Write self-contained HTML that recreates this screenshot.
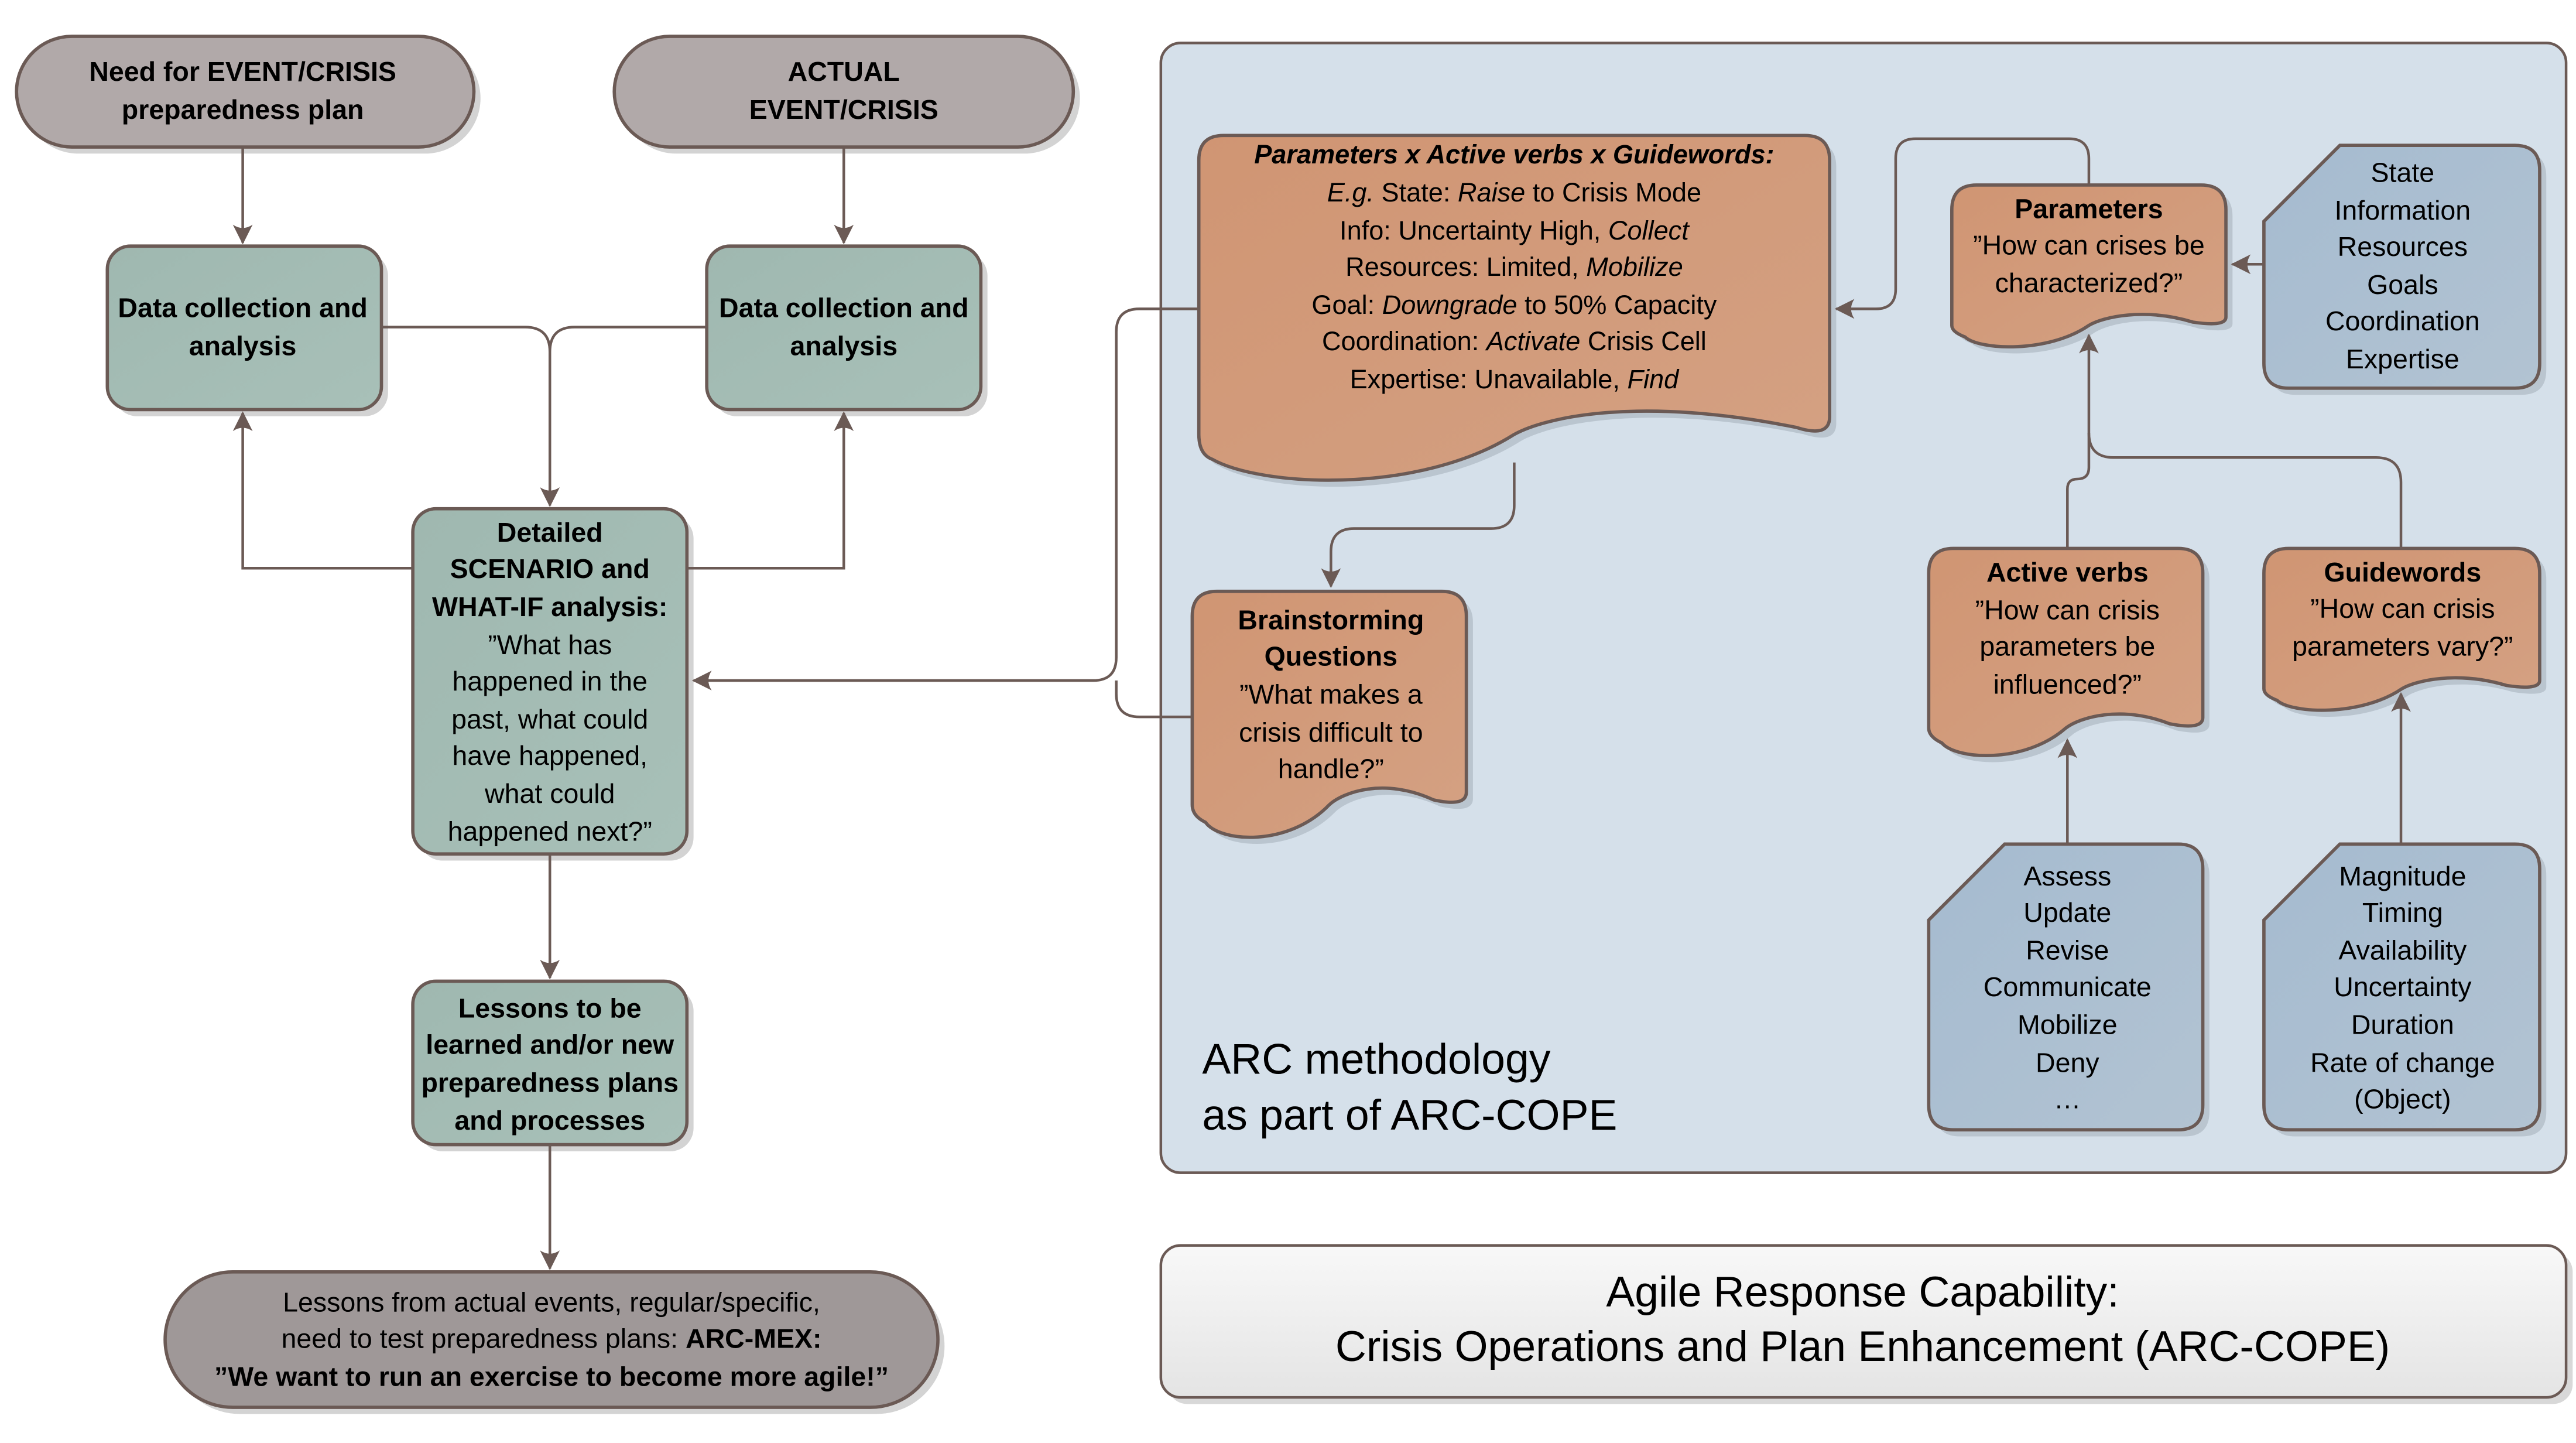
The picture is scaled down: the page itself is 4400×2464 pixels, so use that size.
<!DOCTYPE html>
<html><head><meta charset="utf-8"><style>
html,body{margin:0;padding:0;background:#fff;}
svg{display:block;}
text{font-family:"Liberation Sans",sans-serif;fill:#000;}
</style></head><body>
<svg width="4400" height="2464" viewBox="0 0 1560 873.6" preserveAspectRatio="none" xmlns="http://www.w3.org/2000/svg">
<defs>
<marker id="ar" viewBox="0 0 12 12" refX="11" refY="6" markerWidth="12" markerHeight="12" markerUnits="userSpaceOnUse" orient="auto">
<path d="M0,0 Q4,6 0,12 L12,6 Z" fill="#6b5a55"/>
</marker>
<linearGradient id="gT" x1="0" y1="0" x2="1" y2="1"><stop offset="0" stop-color="#9fb8b0"/><stop offset="1" stop-color="#a8c0b8"/></linearGradient>
<linearGradient id="gO" x1="0" y1="0" x2="1" y2="1"><stop offset="0" stop-color="#d09573"/><stop offset="1" stop-color="#d4a183"/></linearGradient>
<linearGradient id="gB" x1="0" y1="0" x2="1" y2="1"><stop offset="0" stop-color="#a5bbd0"/><stop offset="1" stop-color="#b2c3d2"/></linearGradient>
<linearGradient id="gW" x1="0" y1="0" x2="0" y2="1"><stop offset="0" stop-color="#f8f8f8"/><stop offset="1" stop-color="#e4e4e4"/></linearGradient>
<path id="d1" d="M741,82 H1093 Q1108,82 1108,97 V252.4 Q1108,265.2 1088,258.8 C993.4,239.6 936.1,252.4 917,263 C859.7,299.3 764.2,295 734,278 Q726,275 726,263 V97 Q726,82 741,82 Z"/>
<path id="d2" d="M737,358 H873 Q888,358 888,373 V479.6 Q888,488.7 868,484.2 C838.2,470.5 813.3,479.6 805,487.2 C780.1,513 738.6,510 730,497.8 Q722,494 722,487.2 V373 Q722,358 737,358 Z"/>
<path id="d3" d="M1197,112 H1333 Q1348,112 1348,127 V192 Q1348,198 1328,195 C1298.2,186 1273.3,192 1265,197 C1240.1,214 1198.6,212 1190,204 Q1182,201 1182,197 V127 Q1182,112 1197,112 Z"/>
<path id="d4" d="M1183,332 H1319 Q1334,332 1334,347 V434.4 Q1334,442.1 1314,438.2 C1284.2,426.7 1259.3,434.4 1251,440.8 C1226.1,462.6 1184.6,460 1176,449.8 Q1168,446 1168,440.8 V347 Q1168,332 1183,332 Z"/>
<path id="d5" d="M1386,332 H1523 Q1538,332 1538,347 V412 Q1538,418 1518,415 C1487.9,406 1462.9,412 1454.5,417 C1429.5,434 1387.7,432 1379,424 Q1371,421 1371,417 V347 Q1371,332 1386,332 Z"/>
<path id="b1" d="M1417,88 H1523 Q1538,88 1538,103 V220 Q1538,235 1523,235 H1386 Q1371,235 1371,220 V134 Z"/>
<path id="b2" d="M1214,511 H1319 Q1334,511 1334,526 V669 Q1334,684 1319,684 H1183 Q1168,684 1168,669 V557 Z"/>
<path id="b3" d="M1417,511 H1523 Q1538,511 1538,526 V669 Q1538,684 1523,684 H1386 Q1371,684 1371,669 V557 Z"/>
</defs>

<g fill="#c8c8c8" opacity="0.8">
<rect x="14" y="26" width="277" height="67" rx="33.5"/>
<rect x="376" y="26" width="278" height="67" rx="33.5"/>
<rect x="69" y="153" width="166" height="99" rx="14"/>
<rect x="432" y="153" width="166" height="99" rx="14"/>
<rect x="254" y="312" width="166" height="209" rx="14"/>
<rect x="254" y="598" width="166" height="99" rx="14"/>
<rect x="104" y="774" width="468" height="82" rx="41"/>
</g>

<g stroke="#6b5a55" stroke-width="1.6" fill="none">
<path d="M147,89 V147" marker-end="url(#ar)"/>
<path d="M511,89 V147" marker-end="url(#ar)"/>
<path d="M231,198 H318 Q333,198 333,213 V306" marker-end="url(#ar)"/>
<path d="M428,198 H348 Q333,198 333,213"/>
<path d="M250,344 H147 V250" marker-end="url(#ar)"/>
<path d="M416,344 H511 V250" marker-end="url(#ar)"/>
<path d="M333,517 V592" marker-end="url(#ar)"/>
<path d="M333,693 V768" marker-end="url(#ar)"/>
</g>

<g stroke="#6b5a55" stroke-width="2">
<rect x="10" y="22" width="277" height="67" rx="33.5" fill="#b1a9a9"/>
<rect x="372" y="22" width="278" height="67" rx="33.5" fill="#b1a9a9"/>
<rect x="65" y="149" width="166" height="99" rx="14" fill="url(#gT)"/>
<rect x="428" y="149" width="166" height="99" rx="14" fill="url(#gT)"/>
<rect x="250" y="308" width="166" height="209" rx="14" fill="url(#gT)"/>
<rect x="250" y="594" width="166" height="99" rx="14" fill="url(#gT)"/>
<rect x="100" y="770" width="468" height="82" rx="41" fill="#9f9898"/>
</g>

<g font-size="16.5" text-anchor="middle" font-weight="bold">
<text x="147" y="49">Need for EVENT/CRISIS</text>
<text x="147" y="72">preparedness plan</text>
<text x="511" y="49">ACTUAL</text>
<text x="511" y="72">EVENT/CRISIS</text>
<text x="147" y="192">Data collection and</text>
<text x="147" y="215">analysis</text>
<text x="511" y="192">Data collection and</text>
<text x="511" y="215">analysis</text>
<text x="333" y="328">Detailed</text>
<text x="333" y="350">SCENARIO and</text>
<text x="333" y="373">WHAT-IF analysis:</text>
<text x="333" y="616">Lessons to be</text>
<text x="333" y="638">learned and/or new</text>
<text x="333" y="661">preparedness plans</text>
<text x="333" y="684">and processes</text>
</g>
<g font-size="16.5" text-anchor="middle">
<text x="333" y="396">”What has</text>
<text x="333" y="418">happened in the</text>
<text x="333" y="441">past, what could</text>
<text x="333" y="463">have happened,</text>
<text x="333" y="486">what could</text>
<text x="333" y="509">happened next?”</text>
<text x="334" y="794">Lessons from actual events, regular/specific,</text>
<text x="334" y="816">need to test preparedness plans: <tspan font-weight="bold">ARC-MEX:</tspan></text>
<text x="334" y="839" font-weight="bold">”We want to run an exercise to become more agile!”</text>
</g>

<rect x="703" y="26" width="851" height="684" rx="12" fill="#d5e0ea" stroke="#6b5a55" stroke-width="1.6"/>

<g fill="#a9b3bd" opacity="0.6" transform="translate(4,4)">
<use href="#d1"/><use href="#d2"/><use href="#d3"/><use href="#d4"/><use href="#d5"/>
<use href="#b1"/><use href="#b2"/><use href="#b3"/>
</g>

<g stroke="#6b5a55" stroke-width="1.6" fill="none">
<path d="M726,187 H690 Q676,187 676,201 V398 Q676,412 662,412 H420" marker-end="url(#ar)"/>
<path d="M722,434 H690 Q676,434 676,420 V412"/>
<path d="M917,280 V306 Q917,320 903,320 H820 Q806,320 806,334 V355" marker-end="url(#ar)"/>
<path d="M1265,112 V96 Q1265,84 1253,84 H1160 Q1148,84 1148,96 V175 Q1148,187 1136,187 H1112" marker-end="url(#ar)"/>
<path d="M1371,160 H1352" marker-end="url(#ar)"/>
<path d="M1252,332 V296 Q1252,290 1258,290 Q1265,290 1265,283 V203" marker-end="url(#ar)"/>
<path d="M1454,332 V292 Q1454,277 1439,277 H1280 Q1265,277 1265,262"/>
<path d="M1252,511 V448" marker-end="url(#ar)"/>
<path d="M1454,511 V420" marker-end="url(#ar)"/>
</g>

<g stroke="#6b5a55" stroke-width="2" fill="url(#gO)">
<use href="#d1"/><use href="#d2"/><use href="#d3"/><use href="#d4"/><use href="#d5"/>
</g>
<g stroke="#6b5a55" stroke-width="2" fill="url(#gB)">
<use href="#b1"/><use href="#b2"/><use href="#b3"/>
</g>

<g font-size="16" text-anchor="middle">
<text x="917" y="99" font-weight="bold" font-style="italic">Parameters x Active verbs x Guidewords:</text>
<text x="917" y="122"><tspan font-style="italic">E.g.</tspan> State: <tspan font-style="italic">Raise</tspan> to Crisis Mode</text>
<text x="917" y="145">Info: Uncertainty High, <tspan font-style="italic">Collect</tspan></text>
<text x="917" y="167">Resources: Limited, <tspan font-style="italic">Mobilize</tspan></text>
<text x="917" y="190">Goal: <tspan font-style="italic">Downgrade</tspan> to 50% Capacity</text>
<text x="917" y="212">Coordination: <tspan font-style="italic">Activate</tspan> Crisis Cell</text>
<text x="917" y="235">Expertise: Unavailable, <tspan font-style="italic">Find</tspan></text>
</g>
<g font-size="16.5" text-anchor="middle">
<text x="806" y="381" font-weight="bold">Brainstorming</text>
<text x="806" y="403" font-weight="bold">Questions</text>
<text x="806" y="426">”What makes a</text>
<text x="806" y="449">crisis difficult to</text>
<text x="806" y="471">handle?”</text>
<text x="1265" y="132" font-weight="bold">Parameters</text>
<text x="1265" y="154">”How can crises be</text>
<text x="1265" y="177">characterized?”</text>
<text x="1252" y="352" font-weight="bold">Active verbs</text>
<text x="1252" y="375">”How can crisis</text>
<text x="1252" y="397">parameters be</text>
<text x="1252" y="420">influenced?”</text>
<text x="1455" y="352" font-weight="bold">Guidewords</text>
<text x="1455" y="374">”How can crisis</text>
<text x="1455" y="397">parameters vary?”</text>
<text x="1455" y="110">State</text>
<text x="1455" y="133">Information</text>
<text x="1455" y="155">Resources</text>
<text x="1455" y="178">Goals</text>
<text x="1455" y="200">Coordination</text>
<text x="1455" y="223">Expertise</text>
<text x="1252" y="536">Assess</text>
<text x="1252" y="558">Update</text>
<text x="1252" y="581">Revise</text>
<text x="1252" y="603">Communicate</text>
<text x="1252" y="626">Mobilize</text>
<text x="1252" y="649">Deny</text>
<text x="1252" y="671">…</text>
<text x="1455" y="536">Magnitude</text>
<text x="1455" y="558">Timing</text>
<text x="1455" y="581">Availability</text>
<text x="1455" y="603">Uncertainty</text>
<text x="1455" y="626">Duration</text>
<text x="1455" y="649">Rate of change</text>
<text x="1455" y="671">(Object)</text>
</g>

<text x="728" y="650" font-size="26">ARC methodology</text>
<text x="728" y="684" font-size="26">as part of ARC-COPE</text>

<rect x="707" y="758" width="851" height="92" rx="12" fill="#c8c8c8" opacity="0.7"/>
<rect x="703" y="754" width="851" height="92" rx="12" fill="url(#gW)" stroke="#6b5a55" stroke-width="1.6"/>
<g font-size="26" text-anchor="middle">
<text x="1128" y="791">Agile Response Capability:</text>
<text x="1128" y="824">Crisis Operations and Plan Enhancement (ARC-COPE)</text>
</g>
</svg>
</body></html>
